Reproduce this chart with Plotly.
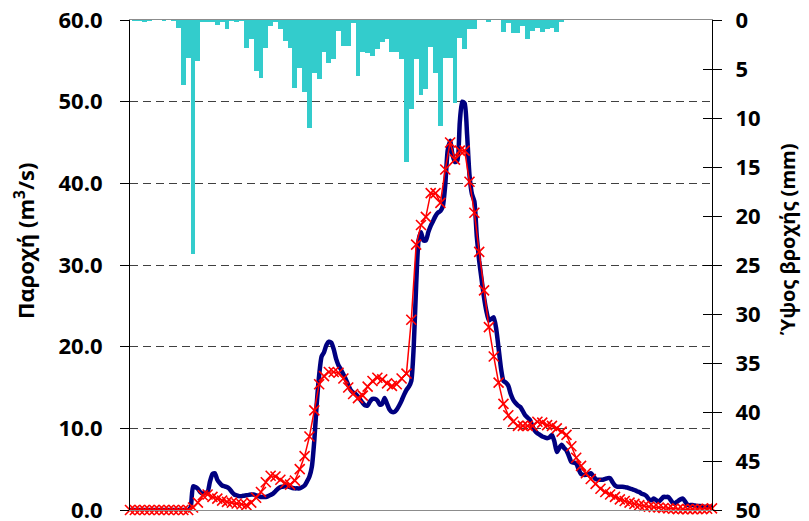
import plotly.graph_objects as go

# Rainfall depth (mm) per time step (121 steps)
rain = [0, 0.1, 0.1, 0.24, 0.1, 0, 0, 0.1, 0, 0.1,
        0.78, 6.6, 3.85, 23.9, 4.15, 0.24, 0.24, 0.24, 0.47, 0.24,
        0.88, 0.1, 0.24, 0.05, 2.9, 1.94, 5.2, 5.95, 2.9, 0.58,
        0.17, 0.88, 2.1, 2.82, 6.9, 4.87, 7.3, 11.0, 5.4, 6.0,
        3.23, 4.35, 3.95, 1.09, 2.62, 2.62, 0.3, 5.7, 3.27, 3.37,
        3.67, 2.93, 2.24, 1.94, 3.27, 3.27, 3.95, 14.5, 9.05, 3.98,
        7.7, 7.05, 2.8, 5.4, 10.8, 3.85, 3.85, 8.5, 1.87, 2.93,
        0.89, 0.89, 0, 0, 0.17, 0, 0, 1.2, 0.34, 1.3,
        1.3, 0.58, 1.9, 1.12, 0.85, 1.2, 0.92, 0.85, 1.2, 0.17,
        0, 0, 0, 0, 0, 0, 0, 0, 0, 0,
        0, 0, 0, 0, 0, 0, 0, 0, 0, 0,
        0, 0, 0, 0, 0, 0, 0, 0, 0, 0, 0]

# Simulated discharge (m3/s), one value per time step
q_sim = [0, 0, 0, 0, 0, 0, 0, 0, 0, 0,
         0, 0, 0, 0.3, 0.9, 1.8, 1.9, 1.6, 1.4, 1.15,
         1.0, 0.9, 0.8, 0.7, 0.6, 0.9, 1.5, 2.2, 3.4, 4.2,
         4.1, 3.7, 3.3, 3.1, 3.6, 5.0, 6.6, 9.0, 12.2, 15.4,
         16.4, 16.9, 16.9, 16.8, 16.1, 15.0, 14.2, 13.7, 14.0, 15.1,
         15.8, 16.2, 16.0, 15.5, 15.2, 15.4, 16.1, 16.7, 23.3, 32.5,
         34.9, 35.9, 38.8, 38.8, 37.6, 41.7, 45.0, 42.9, 44.0, 44.0,
         40.2, 36.4, 31.6, 26.9, 22.4, 18.8, 15.6, 13.0, 11.6, 10.8,
         10.3, 10.3, 10.3, 10.3, 10.8, 10.7, 10.4, 10.3, 10.0, 9.6,
         9.2, 7.8, 6.4, 5.4, 4.5, 3.8, 3.2, 2.6, 2.2, 1.9,
         1.6, 1.3, 1.1, 0.9, 0.75, 0.6, 0.5, 0.4, 0.35, 0.3,
         0.25, 0.2, 0.15, 0.1, 0.1, 0.1, 0.1, 0.1, 0.1, 0.15, 0.2]

# Observed discharge (m3/s), sampled every half time step (241 values)
q_obs = [0] * 25 + [
    0.3, 2.9, 2.8, 2.6, 2.2, 2.0, 2.1, 2.2, 3.5, 4.4,
    4.5, 3.7, 3.3, 3.0, 2.9, 2.8, 2.6, 2.2, 1.9, 1.8,
    1.7, 1.7, 1.75, 1.8, 1.85, 1.9, 1.9, 1.8, 1.7, 1.6,
    1.6, 1.6, 1.7, 1.85, 2.0, 2.3, 2.6, 2.8, 2.85, 2.9,
    2.9, 2.8, 2.7, 2.65, 2.65, 2.65, 2.8, 3.0, 3.5, 4.1,
    5.3, 8.5, 13.0, 16.5, 18.8, 19.3, 20.2, 20.6, 20.5, 19.7,
    18.5, 17.7, 17.2, 16.6, 16.0, 15.3, 14.7, 14.4, 14.2, 13.9,
    13.5, 13.1, 12.8, 12.8, 13.3, 13.6, 13.6, 13.4, 12.9, 13.0,
    13.7, 13.0, 12.3, 12.0, 12.0, 12.3, 12.8, 13.4, 14.1, 14.7,
    15.1, 15.8, 20.0, 27.5, 33.0, 34.0, 33.0, 33.0, 34.0, 34.8,
    35.4, 36.0, 36.4, 36.6, 37.2, 39.8, 44.0, 45.2, 43.5, 42.6,
    42.8, 47.5, 50.0, 49.8, 46.0, 41.0, 38.7, 37.8, 33.5, 30.5,
    28.2, 26.0, 24.3, 23.2, 23.4, 23.6, 22.2, 19.8, 17.3, 15.8,
    15.6, 15.2, 14.2, 13.5, 13.1, 12.8, 12.6, 12.1, 11.6, 11.3,
    11.0, 10.2, 9.7, 9.4, 9.2, 9.0, 8.9, 8.8, 8.9, 9.2,
    8.4, 7.1, 7.6, 8.0, 7.6, 7.3, 6.6, 5.9, 5.8, 5.7,
    5.0, 4.4, 4.3, 4.3, 4.4, 4.5, 4.2, 3.8, 3.7, 3.7,
    3.7, 3.8, 3.9, 3.9, 3.4, 3.0, 2.85, 2.85, 2.85, 2.8,
    2.75, 2.65, 2.55, 2.45, 2.3, 2.2, 2.0, 1.9, 1.7, 1.3,
    1.2, 1.4, 1.2, 1.0, 1.3, 1.6, 1.6, 1.6, 1.2, 0.8,
    0.9, 1.1, 1.3, 1.4, 1.0, 0.6, 0.6, 0.6, 0.55, 0.5,
    0.5, 0.45, 0.4, 0.4, 0.4, 0.4]

t_steps = list(range(len(q_sim)))
t_obs = [k / 2 for k in range(len(q_obs))]

left_ticks = [0, 10, 20, 30, 40, 50, 60]
right_ticks = list(range(0, 55, 5))

left_title = "Παροχή (m<sup>3</sup>/s)"
right_title = "Ύψος βροχής (mm)"

FONT = "Open Sans"

fig = go.Figure()

fig.add_trace(go.Bar(x=t_steps, y=rain, yaxis="y", marker_color="#33CCCC",
                     marker_line_width=0, width=1.0, name="Βροχή"))
fig.add_trace(go.Scatter(x=t_obs, y=q_obs, yaxis="y2", mode="lines",
                         line=dict(color="#000080", width=4.5, shape="spline", smoothing=0.6),
                         name="Παρατηρημένη"))
fig.add_trace(go.Scatter(x=t_steps, y=q_sim, yaxis="y2", mode="lines+markers",
                         line=dict(color="#FF0000", width=1.5),
                         marker=dict(symbol="x-thin", size=10,
                                     line=dict(color="#FF0000", width=1.6)),
                         cliponaxis=False, name="Προσομοίωση"))

fig.update_layout(
    width=809, height=521,
    margin=dict(l=130, r=97, t=20, b=11, autoexpand=False),
    paper_bgcolor="white", plot_bgcolor="white",
    showlegend=False, bargap=0,
    font=dict(family=FONT, color="black"),
    xaxis=dict(range=[0, 120], showticklabels=False, ticks="", showgrid=False,
               zeroline=False, showline=True, linecolor="#8c8c8c", linewidth=1.2,
               mirror=True, automargin=False),
    yaxis=dict(range=[50, 0], side="right", tickvals=right_ticks,
               ticks="outside", ticklen=9, tickcolor="black", tickwidth=1,
               showline=True, linecolor="black", linewidth=1.2,
               showgrid=False, zeroline=False, automargin=False,
               ticklabeloverflow="allow", ticklabelstandoff=9,
               tickfont=dict(family=FONT, size=22, weight="bold")),
    yaxis2=dict(range=[0, 60], side="left", overlaying="y", anchor="x",
                tickvals=left_ticks, tickformat=".1f",
                ticks="outside", ticklen=9, tickcolor="black", tickwidth=1,
                showline=True, linecolor="black", linewidth=1.2,
                showgrid=True, gridcolor="#404040", gridwidth=1, griddash="8px,5px",
                zeroline=False, automargin=False,
                ticklabeloverflow="allow", ticklabelstandoff=13,
                tickfont=dict(family=FONT, size=22, weight="bold")),
    yaxis3=dict(range=[50, 0], side="right", overlaying="y", anchor="x",
                tickvals=right_ticks, ticks="inside", ticklen=9, tickcolor="black",
                showticklabels=False, showgrid=False, zeroline=False, showline=False,
                automargin=False),
    annotations=[
        dict(text=left_title, textangle=-90, xref="paper", yref="paper",
             x=(25 - 130) / 582, y=(510 - 241) / 490, xanchor="center", yanchor="middle",
             showarrow=False, font=dict(family=FONT, size=22, weight="bold")),
        dict(text=right_title, textangle=-90, xref="paper", yref="paper",
             x=(787 - 130) / 582, y=(510 - 240) / 490, xanchor="center", yanchor="middle",
             showarrow=False, font=dict(family=FONT, size=20, weight="bold")),
    ],
)

# dummy trace to activate the inside-tick axis
fig.add_trace(go.Scatter(x=[None], y=[None], yaxis="y3", showlegend=False, hoverinfo="skip"))

fig.write_html("out.html")
